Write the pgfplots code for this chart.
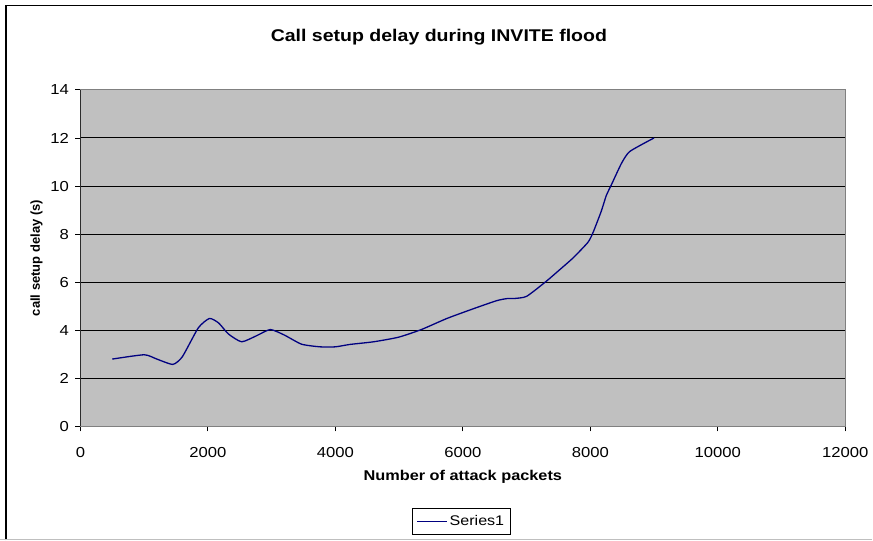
\documentclass[border=0pt]{standalone}
\usepackage{pgfplots}
\pgfplotsset{compat=1.18}
\usepackage{fontspec}
\setmainfont{Liberation Sans}[FakeStretch=1.15]
\newfontfamily\plainfont{Liberation Sans}
\definecolor{plotbg}{RGB}{192,192,192}
\definecolor{navyline}{RGB}{0,0,128}
\definecolor{bordergray}{RGB}{128,128,128}
\begin{document}
\begin{tikzpicture}
\path (0pt,0pt) rectangle (873pt,541pt);
\draw[black,line width=1.5pt] (5.5pt,0pt) -- (5.5pt,535.5pt) -- (873pt,535.5pt);
\draw[black!25,line width=1pt] (0pt,0.8pt) -- (873pt,0.8pt);
\node[font=\fontsize{17}{20}\selectfont\bfseries] at (439pt,504pt) {Call setup delay during INVITE flood};
\begin{axis}[
  at={(80pt,114pt)}, anchor=south west,
  scale only axis, width=766pt, height=337pt,
  xmin=0, xmax=12000, ymin=0, ymax=14,
  xtick={0,2000,...,12000}, ytick={0,2,...,14},
  scaled x ticks=false,
  /pgf/number format/.cd, set thousands separator={}, assume math mode=true, /pgfplots/.cd,
  axis background/.style={fill=plotbg},
  axis line style={draw=bordergray, line width=1pt},
  ymajorgrids, major grid style={black, line width=1pt},
  tick pos=left, tick align=outside, major tick length=5pt,
  tick style={black, line width=0.8pt},
  tick label style={font=\fontsize{14.5}{16}\selectfont},
  xticklabel style={yshift=-12pt},
  yticklabel style={xshift=-3pt},
  xlabel={Number of attack packets},
  xlabel style={at={(0.5,-0.151)}, anchor=center, font=\fontsize{14.2}{16}\selectfont\bfseries},
  ylabel={call setup delay (s)},
  ylabel style={at={(-0.0574,0.5)}, anchor=center, font=\plainfont\fontsize{13}{15}\selectfont\bfseries},
  legend style={at={(0.498,-0.282)}, anchor=center, draw=black, line width=0.8pt,
    font=\fontsize{14}{15}\selectfont, inner xsep=4pt, inner ysep=5pt},
  legend image code/.code={\draw[#1] (0pt,0pt) -- (30pt,0pt);},
]
\addplot[color=navyline, line width=1.3pt, smooth, tension=0.35] coordinates {
(500,2.8) (1000,2.98) (1200,2.8) (1450,2.58) (1600,2.9) (1850,4.1) (2025,4.49)
(2170,4.3) (2320,3.85) (2530,3.52) (2770,3.78) (2980,4.03) (3200,3.8) (3470,3.42)
(3760,3.31) (4000,3.31) (4230,3.41) (4600,3.52) (4990,3.71) (5350,4.03) (5750,4.49)
(6160,4.89) (6530,5.23) (6700,5.32) (6800,5.32) (7000,5.41) (7310,6.04) (7520,6.52)
(7730,7.01) (7960,7.65) (8040,8.05) (8170,8.94) (8250,9.6) (8330,10.05) (8490,10.95) (8620,11.44)
(9000,12.0)};
\addlegendentry{Series1}
\draw[black, line width=1.2pt] (rel axis cs:0,0) -- (rel axis cs:0,1);
\end{axis}
\end{tikzpicture}
\end{document}
